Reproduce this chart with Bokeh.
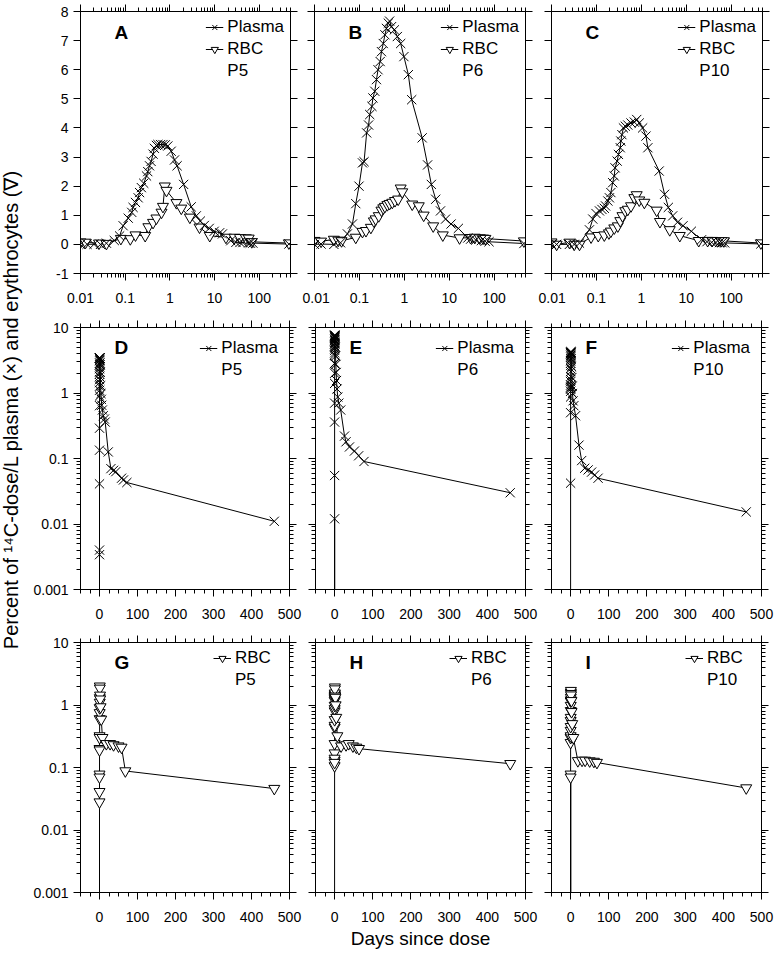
import math
from bokeh.plotting import figure
from bokeh.models import (FixedTicker, LogAxis, LinearAxis, CustomJSTickFormatter,
                          CustomLabelingPolicy, Range1d, Legend, LegendItem, Label)
from bokeh.layouts import row, column
from bokeh.embed import file_html
from bokeh.resources import INLINE
from bokeh.core.properties import value

FONT = "Liberation Sans"

# ---------------- data (days since dose, % of 14C dose / L) ----------------
subjects = ["P5", "P6", "P10"]

p5_plasma_t = [0, 0.01, 0.014, 0.02, 0.028, 0.038, 0.057, 0.075, 0.09, 0.117,
               0.14, 0.15, 0.17, 0.195, 0.21, 0.23, 0.26, 0.30, 0.32, 0.35,
               0.38, 0.42, 0.45, 0.50, 0.54, 0.62, 0.70, 0.79, 0.90, 1.07,
               1.27, 1.45, 2.03, 3.0, 3.9, 4.8, 5.9, 7.6, 9.8, 13,
               15, 23, 30, 37, 43, 58, 63, 72, 460]
p5_plasma_v = [0, 0.0, 0.004, 0.0034, 0.0, 0.041, 0.134, 0.29, 0.64, 0.9,
               1.1, 1.27, 1.44, 1.6, 1.78, 1.95, 2.1, 2.35, 2.5, 2.7,
               2.85, 3.1, 3.3, 3.4, 3.43, 3.43, 3.43, 3.42, 3.38, 3.2,
               2.9, 2.7, 2.06, 1.29, 0.98, 0.8, 0.65, 0.55, 0.45, 0.4,
               0.36, 0.126, 0.07, 0.066, 0.063, 0.05, 0.047, 0.043, 0.011]
p5_rbc_t = [0, 0.01, 0.013, 0.026, 0.038, 0.08, 0.13, 0.17, 0.28, 0.33,
            0.42, 0.5, 0.65, 0.7, 0.77, 0.84, 1.4, 1.8, 2.8, 4.6,
            7.8, 18, 28, 37, 50, 58, 68, 460]
p5_rbc_v = [0, 0.078, 0.07, 0.041, 0.028, 0.2, 0.19, 0.32, 0.3, 0.6,
            0.75, 0.9, 1.1, 1.3, 2.0, 1.85, 1.43, 1.24, 0.93, 0.59,
            0.3, 0.24, 0.24, 0.23, 0.22, 0.21, 0.088, 0.046]

p6_plasma_t = [0, 0.01, 0.014, 0.027, 0.038, 0.054, 0.07, 0.083, 0.098, 0.117,
               0.127, 0.145, 0.16, 0.17, 0.19, 0.2, 0.22, 0.24, 0.26, 0.29,
               0.31, 0.34, 0.37, 0.40, 0.44, 0.47, 0.52, 0.6, 0.70, 0.83,
               0.98, 1.23, 1.46, 2.5, 3.3, 4.0, 5.0, 6.4, 8.3, 11,
               16, 26, 30, 39, 52, 63, 77, 460]
p6_plasma_v = [0, 0.0, 0.012, 0.0, 0.055, 0.36, 0.7, 1.4, 2.0, 2.8,
               2.84, 3.83, 4.1, 4.46, 4.74, 5.03, 5.26, 5.66, 6.0, 6.28,
               6.62, 6.9, 7.2, 7.42, 7.6, 7.67, 7.48, 7.37, 7.14, 6.9,
               6.45, 5.83, 4.97, 3.66, 2.73, 2.06, 1.55, 1.15, 0.87, 0.7,
               0.55, 0.22, 0.18, 0.15, 0.13, 0.11, 0.09, 0.03]
p6_rbc_t = [0, 0.01, 0.014, 0.027, 0.034, 0.04, 0.083, 0.117, 0.14, 0.18,
            0.21, 0.23, 0.27, 0.31, 0.34, 0.37, 0.42, 0.47, 0.54, 0.62,
            0.73, 0.83, 0.9, 1.5, 2.1, 2.7, 4.4, 7.2, 17, 30,
            37, 48, 57, 64, 460]
p6_rbc_v = [0, 0.13, 0.106, 0.17, 0.14, 0.12, 0.24, 0.44, 0.47, 0.58,
            0.8, 0.87, 0.98, 1.17, 1.25, 1.3, 1.36, 1.4, 1.44, 1.5,
            1.55, 1.93, 1.8, 1.38, 1.32, 1.0, 0.63, 0.32, 0.22, 0.23,
            0.24, 0.22, 0.21, 0.2, 0.115]

p10_plasma_t = [0, 0.01, 0.013, 0.025, 0.032, 0.042, 0.07, 0.083, 0.098, 0.117,
                0.133, 0.15, 0.16, 0.18, 0.195, 0.21, 0.23, 0.25, 0.26, 0.29,
                0.31, 0.34, 0.35, 0.37, 0.40, 0.44, 0.5, 0.59, 0.70, 0.79,
                0.90, 1.07, 1.27, 1.4, 2.5, 3.3, 4.0, 5.0, 6.4, 8.5,
                13, 22, 29, 37, 46, 55, 63, 72, 460]
p10_plasma_v = [0, 0.0, 0.0, 0.0, 0.0, 0.042, 0.5, 0.87, 1.06, 1.15,
                1.2, 1.24, 1.32, 1.49, 1.6, 1.78, 2.12, 2.35, 2.63, 2.86,
                3.09, 3.32, 3.55, 3.77, 4.0, 4.06, 4.1, 4.17, 4.2, 4.29,
                4.17, 4.0, 3.72, 3.32, 2.52, 1.72, 1.27, 0.98, 0.76, 0.64,
                0.45, 0.16, 0.093, 0.071, 0.067, 0.062, 0.056, 0.05, 0.0153]
p10_rbc_t = [0, 0.01, 0.013, 0.025, 0.032, 0.042, 0.076, 0.11, 0.15, 0.19,
             0.21, 0.25, 0.30, 0.34, 0.38, 0.44, 0.5, 0.59, 0.7, 0.79,
             0.9, 1.17, 2.2, 2.6, 4.3, 7.2, 19, 30, 38, 50,
             61, 69, 460]
p10_rbc_v = [0, 0.078, 0.0, 0.07, 0.0, 0.0, 0.25, 0.3, 0.32, 0.39,
             0.45, 0.56, 0.63, 0.81, 0.98, 1.15, 1.2, 1.32, 1.6, 1.7,
             1.52, 1.44, 1.17, 0.78, 0.5, 0.3, 0.128, 0.13, 0.13, 0.127,
             0.125, 0.12, 0.047]

plasma_t = [p5_plasma_t, p6_plasma_t, p10_plasma_t]
plasma_v = [p5_plasma_v, p6_plasma_v, p10_plasma_v]
rbc_t = [p5_rbc_t, p6_rbc_t, p10_rbc_t]
rbc_v = [p5_rbc_v, p6_rbc_v, p10_rbc_v]

letters = [["A", "B", "C"], ["D", "E", "F"], ["G", "H", "I"]]

# ---------------- ticks ----------------
logx_major = [0.01, 0.1, 1, 10, 100]
logx_minor = [k * 10.0 ** e for e in range(-2, 3) for k in range(2, 10) if k * 10.0 ** e <= 500]
liny_major = list(range(-1, 9))
linx_major = [0, 100, 200, 300, 400, 500]
linx_minor = list(range(-50, 501, 25))
logy_major = [0.001, 0.01, 0.1, 1, 10]
logy_minor = [k * 10.0 ** e for e in range(-3, 1) for k in range(2, 10)]

y_label = "Percent of \u00b9\u2074C-dose/L plasma (\u00d7) and erythrocytes (\u2207)"
x_label = "Days since dose"

# ---------------- layout geometry (page has no margin) ----------------
lab_w = 26
col_w = [276, 236, 236]
col_bl = [54, 12, 13]
col_br = [12, 13, 12]
row_h = [309, 316, 331]
row_bt = [10, 18, 17]
row_bb = [36, 36, 64]
leg_margin = [6, 11, 6]
leg_pad = [3, 3, 3]
leg_label_w = [20, 20, 48]
letter_off = [11, 9, 9]


def fmt():
    return CustomJSTickFormatter(code="return tick.toString();")


def style_axis(ax, ticker, show, standoff):
    ax.ticker = ticker
    ax.formatter = fmt()
    ax.axis_line_color = "black"
    ax.axis_line_width = 1
    ax.major_tick_line_color = "black"
    ax.minor_tick_line_color = "black"
    ax.major_tick_in = 0
    ax.major_tick_out = 7
    ax.minor_tick_in = 0
    ax.minor_tick_out = 4
    ax.major_label_text_font = FONT
    ax.major_label_text_color = "black"
    if show:
        ax.major_label_text_font_size = "14px"
        ax.major_label_standoff = standoff
    else:
        ax.major_label_text_font_size = "1px"
        ax.major_label_standoff = 0
        ax.major_label_policy = CustomLabelingPolicy(
            code="for (const i of indices) indices.unset(i)")


def make_panel(r, c):
    top = (r == 0)
    kw = dict(width=col_w[c], height=row_h[r], output_backend="svg", toolbar_location=None,
              min_border_left=col_bl[c], min_border_right=col_br[c],
              min_border_top=row_bt[r], min_border_bottom=row_bb[r])
    if top:
        p = figure(x_axis_type="log", x_range=Range1d(0.01, 500), y_range=Range1d(-1, 8), **kw)
        xt = FixedTicker(ticks=logx_major, minor_ticks=logx_minor)
        yt = FixedTicker(ticks=liny_major, minor_ticks=[])
        XA, YA = LogAxis, LinearAxis
    else:
        p = figure(y_axis_type="log", x_range=Range1d(-50, 500), y_range=Range1d(0.001, 10), **kw)
        xt = FixedTicker(ticks=linx_major, minor_ticks=linx_minor)
        yt = FixedTicker(ticks=logy_major, minor_ticks=logy_minor)
        XA, YA = LinearAxis, LogAxis
    p.xgrid.visible = False
    p.ygrid.visible = False
    p.outline_line_color = "black"
    p.background_fill_color = "white"
    p.border_fill_color = "white"

    style_axis(p.below[0], xt, True, 12)
    style_axis(p.left[0], yt, c == 0, 5)
    above = XA()
    style_axis(above, xt, False, 0)
    p.add_layout(above, "above")
    right = YA()
    style_axis(right, yt, False, 0)
    p.add_layout(right, "right")

    if r == 2 and c == 1:
        ax = p.below[0]
        ax.axis_label = x_label
        ax.axis_label_text_font = FONT
        ax.axis_label_text_font_size = "19px"
        ax.axis_label_text_font_style = "normal"
        ax.axis_label_text_color = "black"
        ax.axis_label_standoff = 3

    def prep(ts, vs):
        if top:
            pairs = [(t, v) for t, v in zip(ts, vs) if t > 0]
        else:
            pairs = [(t, v if v > 0 else 1e-7) for t, v in zip(ts, vs)]
        return [a for a, _ in pairs], [b for _, b in pairs]

    items = []
    if r in (0, 1):
        xs, ys = prep(plasma_t[c], plasma_v[c])
        lp = p.line(xs, ys, line_color="black", line_width=1)
    if r in (0, 2):
        xr, yr = prep(rbc_t[c], rbc_v[c])
        lr = p.line(xr, yr, line_color="black", line_width=1)
        sr = p.scatter(xr, yr, marker="inverted_triangle", size=11, line_color="black",
                       fill_color="white", line_width=1)
    if r in (0, 1):
        sp = p.scatter(xs, ys, marker="x", size=13, line_color="black", line_width=1)
        items.append(LegendItem(label=value("Plasma"), renderers=[lp, sp]))
    if r in (0, 2):
        items.append(LegendItem(label=value("RBC"), renderers=[lr, sr]))
    dummy = p.line([], [], line_alpha=0)
    items.append(LegendItem(label=value(subjects[c]), renderers=[dummy]))

    leg = Legend(items=items, location="top_right", border_line_color=None,
                 background_fill_alpha=0, label_text_font=FONT, label_text_font_size="17px",
                 label_text_color="black", glyph_width=18, glyph_height=20, label_height=20,
                 label_width=leg_label_w[r], label_standoff=4, spacing=2,
                 padding=leg_pad[r], margin=leg_margin[r])
    p.add_layout(leg)

    frame_h = row_h[r] - row_bt[r] - row_bb[r]
    p.add_layout(Label(x=34, y=frame_h - letter_off[r], x_units="screen", y_units="screen",
                       text=letters[r][c], text_font=FONT, text_font_size="19px",
                       text_font_style="bold", text_baseline="top", text_align="left",
                       text_color="black"))
    return p


rows = []
for r in range(3):
    rows.append(row([make_panel(r, c) for c in range(3)], spacing=0))
grid = column(rows, spacing=0)

total_h = sum(row_h)
lab = figure(width=lab_w, height=total_h, x_range=Range1d(0, 1), y_range=Range1d(0, 1),
             output_backend="svg", toolbar_location=None, x_axis_location=None,
             y_axis_location=None, min_border=0)
lab.outline_line_color = None
lab.xgrid.visible = False
lab.ygrid.visible = False
lab.text(x=[0.4], y=[0.572], text=[y_label], angle=math.pi / 2, text_align="center",
         text_baseline="middle", text_font=value(FONT), text_font_size="20px",
         text_color="black")

page = row([lab, grid], spacing=0)

open("out.html", "w").write(file_html(page, INLINE))
